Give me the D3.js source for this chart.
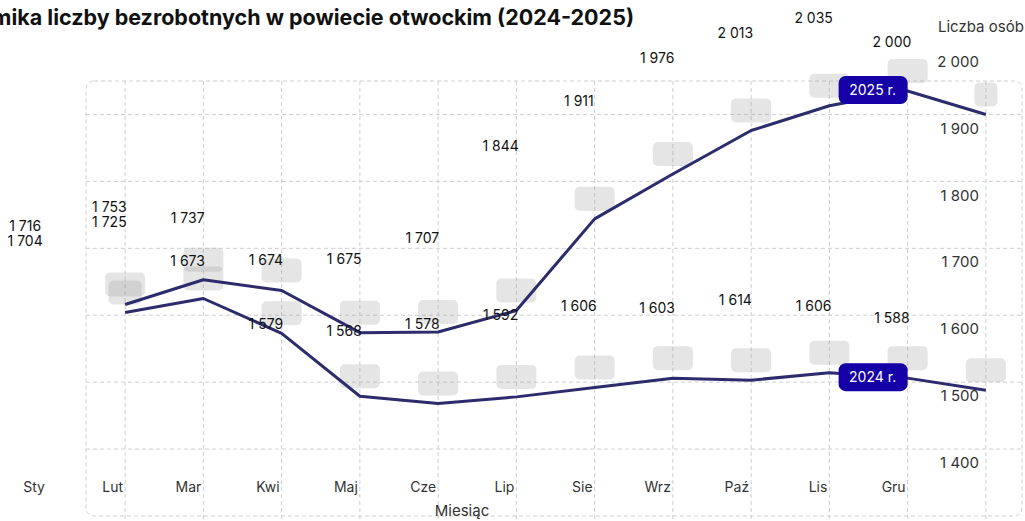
<!DOCTYPE html>
<html>
<head>
<meta charset="utf-8">
<script src="https://cdn.jsdelivr.net/npm/d3@7"></script>
<style>
    body { margin: 0; background: #fff; }
    svg { display: block; font-family: Inter, "Noto Sans", sans-serif; }
</style>
</head>
<body>
<div id="chart"></div>
<script>
//Chart data
var months = ["Sty", "Lut", "Mar", "Kwi", "Maj", "Cze", "Lip", "Sie", "Wrz", "Paź", "Lis", "Gru"];
var values2025 = [1716, 1753, 1737, 1674, 1675, 1707, 1844, 1911, 1976, 2013, 2035, 2000];
var values2024 = [1704, 1725, 1673, 1579, 1568, 1578, 1592, 1606, 1603, 1614, 1606, 1588];
var yTicks = [1400, 1500, 1600, 1700, 1800, 1900, 2000];
var seriesNames = ["2025 r.", "2024 r."];

//SVG dimensions
var svgWidth = 1025;
var svgHeight = 521;

var plot = { left: 86, right: 1022, top: 81, bottom: 516 };

var svg = d3.select("#chart")
    .append("svg")
    .attr("width", svgWidth)
    .attr("height", svgHeight);

var pl = d3.formatLocale({ decimal: ",", thousands: "\u00a0", grouping: [3], currency: ["", " zł"] });
var fmt = pl.format(",d");

//Scales
var xScale = d3.scalePoint()
    .domain(months)
    .range([plot.left, 1025])
    .padding(0.5);

var yScale = d3.scaleLinear()
    .domain([1400, 2050])
    .range([plot.bottom, plot.top]);

var step = xScale.step();

//Title (runs off the left edge like the original)
svg.append("text")
    .attr("x", 634)
    .attr("y", 25)
    .attr("text-anchor", "end")
    .attr("font-size", "21.5px")
    .attr("font-weight", 700)
    .attr("fill", "#111")
    .text("Dynamika liczby bezrobotnych w powiecie otwockim (2024-2025)");

//Grid
var grid = svg.append("g")
    .attr("stroke", "#cfcfcf")
    .attr("stroke-dasharray", "4,3")
    .attr("fill", "none");

grid.append("rect")
    .attr("x", plot.left)
    .attr("y", plot.top)
    .attr("width", plot.right - plot.left)
    .attr("height", plot.bottom - plot.top)
    .attr("rx", 8);

grid.selectAll(".hgrid")
    .data(yTicks.filter(d => d > 1400))
    .enter()
    .append("line")
    .attr("x1", plot.left)
    .attr("x2", plot.right)
    .attr("y1", d => yScale(d))
    .attr("y2", d => yScale(d));

grid.selectAll(".vgrid")
    .data(months)
    .enter()
    .append("line")
    .attr("x1", d => xScale(d))
    .attr("x2", d => xScale(d))
    .attr("y1", plot.top)
    .attr("y2", svgHeight);

//Axis tick labels
svg.append("g")
    .selectAll("text")
    .data(months)
    .enter()
    .append("text")
    .attr("x", d => xScale(d) - step - 2)
    .attr("y", 492)
    .attr("text-anchor", "end")
    .attr("font-size", "14px")
    .attr("fill", "#333")
    .text(d => d);

svg.append("g")
    .selectAll("text")
    .data(yTicks)
    .enter()
    .append("text")
    .attr("x", 979)
    .attr("y", d => yScale(d) - 53)
    .attr("dy", "0.35em")
    .attr("text-anchor", "end")
    .attr("font-size", "15px")
    .attr("fill", "#333")
    .text(d => fmt(d));

svg.append("text")
    .attr("x", 938)
    .attr("y", 32)
    .attr("font-size", "15px")
    .attr("fill", "#333")
    .text("Liczba osób");

svg.append("text")
    .attr("x", 462)
    .attr("y", 516)
    .attr("text-anchor", "middle")
    .attr("font-size", "15px")
    .attr("fill", "#333")
    .text("Miesiąc");

//Label background boxes
var series = [values2025, values2024];
var boxes = [];
series.forEach((vals, s) => {
    vals.forEach((v, i) => {
        var w = 40;
        if (s === 1 && i === 0) w = 33;
        if (s === 0 && i === months.length - 1) w = 23;
        boxes.push({ x: xScale(months[i]), y: yScale(v) - 20, w: w });
    });
});

svg.append("g")
    .selectAll("rect")
    .data(boxes)
    .enter()
    .append("rect")
    .attr("x", d => d.x - d.w / 2)
    .attr("y", d => d.y - 12)
    .attr("width", d => d.w)
    .attr("height", 24)
    .attr("rx", 5)
    .attr("fill", "#999")
    .attr("fill-opacity", 0.25);

//Lines
var line = d3.line()
    .x((d, i) => xScale(months[i]))
    .y(d => yScale(d));

svg.append("g")
    .selectAll("path")
    .data(series)
    .enter()
    .append("path")
    .attr("d", d => line(d))
    .attr("fill", "none")
    .attr("stroke", "#2c2b6c")
    .attr("stroke-width", 3)
    .attr("stroke-linejoin", "round");

//Value labels (shifted from points, spread when they collide)
var labels = [];
months.forEach((m, i) => {
    var dx = i === 0 ? -100 : -94;
    var a = { v: values2025[i], x: xScale(m) + dx, y: yScale(values2025[i]) - 72.5 };
    var b = { v: values2024[i], x: xScale(m) + dx, y: yScale(values2024[i]) - 72.5 };
    if (Math.abs(a.y - b.y) < 20) {
        var mid = (a.y + b.y) / 2 - 2;
        a.y = mid - 7.5;
        b.y = mid + 7.5;
    }
    labels.push(a, b);
});

svg.append("g")
    .selectAll("text")
    .data(labels)
    .enter()
    .append("text")
    .attr("x", d => d.x)
    .attr("y", d => d.y)
    .attr("dy", "0.35em")
    .attr("text-anchor", "middle")
    .attr("font-size", "14px")
    .attr("fill", "#111")
    .text(d => fmt(d.v));

//Series badges at November point
var badgeMonth = "Lis";
var badges = svg.append("g")
    .selectAll("g")
    .data(series)
    .enter()
    .append("g")
    .attr("transform", d => `translate(${xScale(badgeMonth) - 35}, ${yScale(d[months.indexOf(badgeMonth)]) - 1})`);

badges.append("rect")
    .attr("x", -34)
    .attr("y", -14)
    .attr("width", 69)
    .attr("height", 28)
    .attr("rx", 7)
    .attr("fill", "#1500a8");

badges.append("text")
    .attr("dy", "0.35em")
    .attr("text-anchor", "middle")
    .attr("font-size", "14px")
    .attr("fill", "#fff")
    .text((d, i) => seriesNames[i]);
</script>
</body>
</html>
